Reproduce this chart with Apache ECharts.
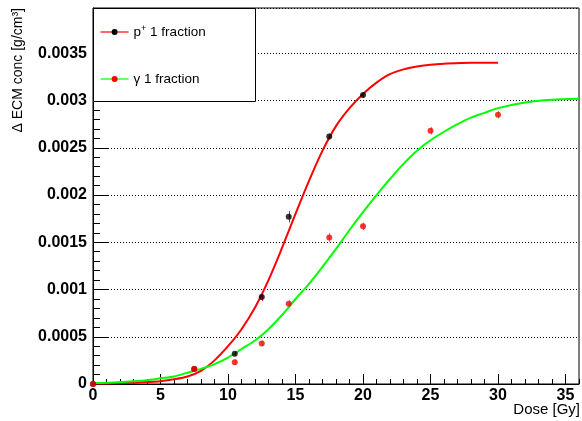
<!DOCTYPE html>
<html>
<head>
<meta charset="utf-8">
<script src="https://cdn.jsdelivr.net/npm/echarts@6/dist/echarts.min.js"></script>
<style>
  html, body { margin: 0; padding: 0; background: #fff; }
  #chart { width: 582px; height: 421px; }
</style>
</head>
<body>
<div id="chart"></div>
<script>
// Measured ECM concentration change versus dose, with sigmoid fits.
const FONT = '"Liberation Sans", Arial, Helvetica, sans-serif';

// Proton, single fraction
const protonDose   = [0, 7.5, 10.5, 12.5, 14.5, 17.5, 20];
const protonValue  = [0, 0.00016, 0.00032, 0.00092, 0.00177, 0.00262, 0.00306];
const protonError  = [0, 0.00002, 0.00002, 0.00004, 0.00006, 0.00003, 0.00003];

// Photon, single fraction
const gammaDose    = [0, 7.5, 10.5, 12.5, 14.5, 17.5, 20, 25, 30];
const gammaValue   = [0, 0.00016, 0.00023, 0.00043, 0.00085, 0.00155, 0.00167, 0.00268, 0.00285];
const gammaError   = [0, 0.00002, 0.00003, 0.00003, 0.00004, 0.00005, 0.00004, 0.00004, 0.00004];

// Fitted curves
const protonFitDose  = [0, 1, 2, 3, 4, 5, 6, 7, 8, 9, 10, 11, 12, 13, 14, 15, 16, 17, 18, 19, 20, 21, 22, 23, 24, 25, 26, 28, 30];
const protonFitValue = [0.000005, 0.000006, 0.000008, 0.000012, 0.00002, 0.00003, 0.00005, 0.00008, 0.00014, 0.00025, 0.0004, 0.00058, 0.00081, 0.0011, 0.00144, 0.0018, 0.00215, 0.00247, 0.00273, 0.00292, 0.00307, 0.00319, 0.00328, 0.00333, 0.00336, 0.00338, 0.00339, 0.0034, 0.0034];
const gammaFitDose   = [0, 1, 2, 3, 4, 5, 6, 7, 8, 9, 10, 11, 12, 13, 14, 15, 16, 17, 18, 19, 20, 21, 22, 23, 24, 25, 26, 27, 28, 29, 30, 32, 34, 36];
const gammaFitValue  = [0.00001, 0.000013, 0.00002, 0.000028, 0.00004, 0.00006, 0.00008, 0.00012, 0.00016, 0.00021, 0.00028, 0.00037, 0.00046, 0.00058, 0.00073, 0.0009, 0.00106, 0.00124, 0.00143, 0.00163, 0.00182, 0.002, 0.00217, 0.00233, 0.00247, 0.00258, 0.00267, 0.00275, 0.00282, 0.00287, 0.00292, 0.00298, 0.00301, 0.00302];

// Axes
const xMax = 36, xStep = 5, xMinorStep = 1;
const yMax = 0.00398, yStep = 0.0005, yMinorStep = 0.0001;

const protonName = 'p+ 1 fraction';
const gammaName  = 'γ 1 fraction';

const zip = (xs, ys) => xs.map((x, i) => [x, ys[i]]);

function errorBars(xs, ys, es, color) {
  return {
    type: 'custom',
    silent: true,
    z: 3,
    data: xs.map((x, i) => [x, ys[i], es[i]]),
    encode: { x: 0, y: 1 },
    renderItem(params, api) {
      const x = api.value(0), y = api.value(1), e = api.value(2);
      const lo = api.coord([x, y - e]);
      const hi = api.coord([x, y + e]);
      const cx = Math.round(lo[0]) + 0.5;
      return {
        type: 'line',
        shape: { x1: cx, y1: lo[1], x2: cx, y2: hi[1] },
        style: { stroke: color, lineWidth: 1 }
      };
    }
  };
}

const black = '#000';
const labelStyle = { fontFamily: FONT, fontSize: 16, fontWeight: 'bold', color: black };

const chart = echarts.init(document.getElementById('chart'), null, { renderer: 'canvas' });
chart.setOption({
  animation: false,
  backgroundColor: '#fff',
  grid: { left: 93, right: 3, top: 8, bottom: 37, show: true, borderColor: black, borderWidth: 1, backgroundColor: 'transparent' },
  xAxis: [
    {
      type: 'value', min: 0, max: xMax, interval: xStep,
      axisLine: { lineStyle: { color: black, width: 1 } },
      axisTick: { inside: true, length: 10, lineStyle: { color: black } },
      axisLabel: Object.assign({ margin: 4, showMaxLabel: false }, labelStyle),
      splitLine: { show: false }
    },
    {
      type: 'value', min: 0, max: xMax, interval: xMinorStep, position: 'bottom',
      axisLine: { show: false },
      axisTick: { inside: true, length: 5, lineStyle: { color: black } },
      axisLabel: { show: false },
      splitLine: { show: false }
    }
  ],
  yAxis: [
    {
      type: 'value', min: 0, max: yMax, interval: yStep,
      axisLine: { show: true, lineStyle: { color: black, width: 1 } },
      axisTick: { show: true, inside: true, length: 15, lineStyle: { color: black } },
      axisLabel: Object.assign({
        margin: 6, showMaxLabel: false,
        formatter: v => (v === 0 ? '0' : String(+v.toFixed(5)))
      }, labelStyle),
      splitLine: { show: true, lineStyle: { type: [1, 2], color: black, width: 1 } }
    },
    {
      type: 'value', min: 0, max: yMax, interval: yMinorStep, position: 'left',
      axisLine: { show: false },
      axisTick: { show: true, inside: true, length: 7, lineStyle: { color: black } },
      axisLabel: { show: false },
      splitLine: { show: false }
    }
  ],
  legend: {
    data: [protonName, gammaName],
    orient: 'vertical',
    left: 93, top: 8,
    padding: [16, 10, 14, 7],
    itemGap: 31,
    itemWidth: 28,
    itemHeight: 7.5,
    selectedMode: false,
    z: 10,
    lineStyle: { width: 1.2 },
    textStyle: {
      fontFamily: FONT, fontSize: 13.5, color: black, lineHeight: 16,
      rich: {
        n: { fontFamily: FONT, fontSize: 13.5, color: black, lineHeight: 16 },
        sup: { fontFamily: FONT, fontSize: 9, color: black, lineHeight: 9, verticalAlign: 'top' }
      }
    },
    formatter: name => (name === protonName ? '{n|p}{sup|+}{n| 1 fraction}' : '{n|' + name + '}')
  },
  graphic: [
    {
      type: 'rect', z: 3, silent: true,
      shape: { x: 93.5, y: 8.5, width: 162, height: 93 },
      style: { fill: '#fff', stroke: black, lineWidth: 1 }
    },
    {
      type: 'text', x: 18, y: 8, rotation: Math.PI / 2, silent: true,
      style: {
        text: 'Δ ECM conc [g/cm³]',
        fontFamily: FONT, fontSize: 14, fill: black,
        align: 'right', verticalAlign: 'middle',
        textAlign: 'right', textVerticalAlign: 'middle'
      }
    },
    {
      type: 'text', x: 580, y: 410, silent: true,
      style: {
        text: 'Dose [Gy]',
        fontFamily: FONT, fontSize: 15, fill: black,
        align: 'right', verticalAlign: 'middle',
        textAlign: 'right', textVerticalAlign: 'middle'
      }
    }
  ],
  series: [
    {
      name: protonName, type: 'line', data: zip(protonFitDose, protonFitValue),
      showSymbol: false, symbol: 'circle', smooth: 0.3,
      lineStyle: { color: '#ff0000', width: 2 }, itemStyle: { color: black }, z: 2
    },
    {
      name: gammaName, type: 'line', data: zip(gammaFitDose, gammaFitValue),
      showSymbol: false, symbol: 'circle', smooth: 0.3,
      lineStyle: { color: '#00ff00', width: 2 }, itemStyle: { color: '#ff0000' }, z: 2
    },
    errorBars(protonDose, protonValue, protonError, '#ff0000'),
    {
      name: 'proton points', type: 'scatter', data: zip(protonDose, protonValue),
      symbol: 'circle', symbolSize: 6, itemStyle: { color: black }, z: 3
    },
    errorBars(gammaDose, gammaValue, gammaError, '#00ff00'),
    {
      name: 'photon points', type: 'scatter', data: zip(gammaDose, gammaValue),
      symbol: 'circle', symbolSize: 6, itemStyle: { color: '#ff0000' }, z: 3
    }
  ]
});
</script>
</body>
</html>
